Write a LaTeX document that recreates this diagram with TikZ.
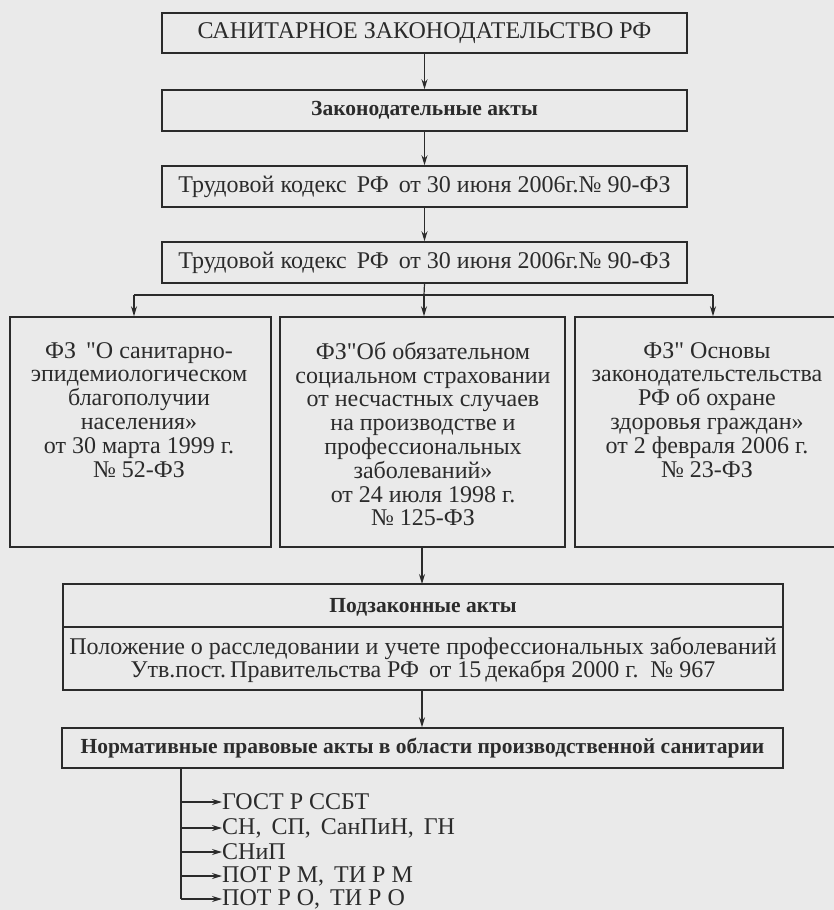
\documentclass[tikz,border=0pt]{standalone}
\usepackage{fontspec}
\setmainfont{Liberation Serif}[Ligatures=TeXOff]
\usetikzlibrary{arrows.meta}
\definecolor{bg}{HTML}{EAEAEA}
\definecolor{ink}{HTML}{2B2B2B}
\begin{document}
\begin{tikzpicture}[x=1pt,y=-1pt,
  box/.style={draw=ink, line width=1.5pt, fill=bg, inner sep=0pt},
  txt/.style={text=ink, font=\fontsize{24}{23.8}\selectfont, inner sep=0pt, align=center},
  btxt/.style={text=ink, font=\fontsize{21.5}{23}\selectfont\bfseries, inner sep=0pt, align=center},
  arr/.style={draw=ink, line width=1.2pt, -{Stealth[length=10pt,width=6pt]}},
  ln/.style={draw=ink, line width=1.2pt}]
\useasboundingbox (0,0) rectangle (834,910);
\fill[bg] (0,0) rectangle (834,910);

% top chain
\node[box, txt, minimum width=525pt, minimum height=40pt] (t1) at (424.5,33) {САНИТАРНОЕ ЗАКОНОДАТЕЛЬСТВО РФ};
\node[box, btxt, minimum width=525pt, minimum height=41pt] (t2) at (424.5,110.5) {Законодательные акты};
\node[box, txt, minimum width=525pt, minimum height=41pt] (t3) at (424.5,186.5) {Трудовой кодекс\, РФ\, от 30 июня 2006г.№ 90-ФЗ};
\node[box, txt, minimum width=525pt, minimum height=41pt] (t4) at (424.5,262.5) {Трудовой кодекс\, РФ\, от 30 июня 2006г.№ 90-ФЗ};

\draw[arr] (t1.south) -- (t2.north);
\draw[arr] (t2.south) -- (t3.north);
\draw[arr] (t3.south) -- (t4.north);

% three law boxes
\node[box, minimum width=261pt, minimum height=230pt] (fa) at (140.5,432) {};
\node[box, minimum width=285pt, minimum height=230pt] (fb) at (422.5,432) {};
\node[box, minimum width=270pt, minimum height=230pt] (fc) at (710,432) {};

\node[txt, anchor=north] (fat) at (139,342) {ФЗ\, "О санитарно-\\эпидемиологическом\\благополучии\\населения»\\от 30 марта 1999 г.\\№ 52-ФЗ};
\node[txt, anchor=north] (fbt) at (423,342) {ФЗ"Об обязательном\\социальном страховании\\от несчастных случаев\\на производстве и\\профессиональных\\заболеваний»\\от 24 июля 1998 г.\\№ 125-ФЗ};
\node[txt, anchor=north] (fct) at (707,342) {ФЗ" Основы\\законодательстельства\\РФ об охране\\здоровья граждан»\\от 2 февраля 2006 г.\\№ 23-ФЗ};

\coordinate (br) at (424,295);
\coordinate (brL) at (134,295);
\coordinate (brR) at (713,295);
\draw[ln] (t4.south) -- (br);
\draw[ln] (brL) -- (brR);
\draw[arr] (brL) -- (brL |- fa.north);
\draw[arr] (br) -- (br |- fb.north);
\draw[arr] (brR) -- (brR |- fc.north);

% by-laws box
\node[box, minimum width=720pt, minimum height=106pt] (sub) at (423,637) {};
\coordinate (divL) at (63,627);
\draw[draw=ink, line width=1.5pt] (divL) -- (divL -| sub.east);
\node[btxt] (subt) at (423,607) {Подзаконные акты};
\node[txt] (subp) at (423,660) {Положение о расследовании и учете профессиональных заболеваний\\Утв.пост.\,Правительства РФ\, от 15\,декабря 2000 г.\, № 967};

\draw[arr] (fb.south -| 422,0) -- (422,584);

% normative acts
\node[box, btxt, minimum width=721pt, minimum height=40pt] (norm) at (422.5,748) {Нормативные правовые акты в области производственной санитарии};
\draw[arr] (422,690) -- (norm.north -| 422,0);

% list
\coordinate (ls) at (181,768);
\coordinate (le) at (181,899);
\draw[ln] (ls) -- (le);
\foreach \yy/\lab/\nm in {802/ГОСТ Р ССБТ/i1, 828/{СН,\, СП,\, СанПиН,\, ГН}/i2, 852/СНиП/i3, 876/{ПОТ Р М,\, ТИ Р М}/i4, 899/{ПОТ Р О,\, ТИ Р О}/i5}{
  \node[txt, anchor=west] (\nm) at (222,\yy) {\lab};
  \draw[arr] (181,\yy) -- (\nm.west);
}
\end{tikzpicture}
\end{document}
